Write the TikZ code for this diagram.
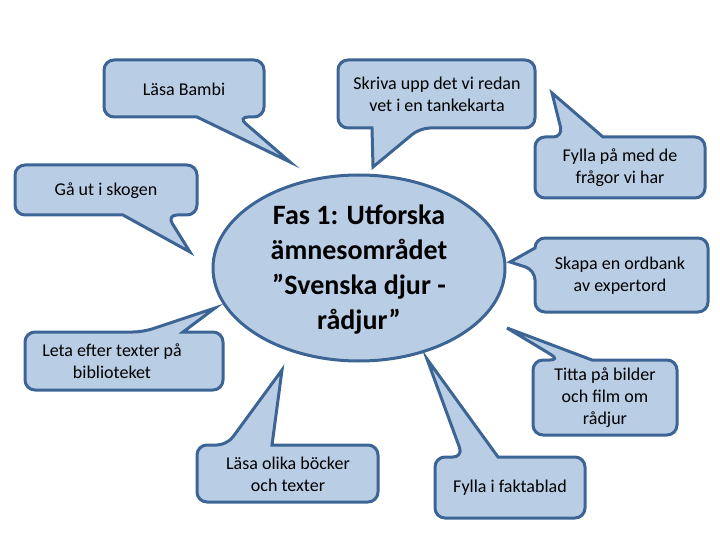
\documentclass[tikz,border=0pt]{standalone}
\usepackage{fontspec}
\setmainfont{Carlito}
\definecolor{bubfill}{HTML}{B9CDE5}
\definecolor{bubline}{HTML}{3C6494}
\begin{document}
\begin{tikzpicture}[x=1pt,y=-1pt,
  bub/.style={draw=bubline,fill=bubfill,line width=3pt},
  txt/.style={font=\fontsize{18}{22}\selectfont,align=center,inner sep=0pt,text=black},
  bigtxt/.style={font=\fontsize{28}{35}\selectfont\bfseries,align=center,inner sep=0pt,text=black}]
\useasboundingbox (0,0) rectangle (720,540);
% centre ellipse
\draw[bub] (359,268) ellipse [x radius=146, y radius=93];
\node[bigtxt] (centre) at (359,270) {Fas 1: Utforska\\ämnesområdet\\”Svenska djur -\\rådjur”};
% Läsa Bambi (tail bottom)
\draw[bub] (184,60) [rounded corners=10] -- (264,60) -- (264,117) -- (238,117) [sharp corners] -- (290,162) -- (197,117) [rounded corners=10] -- (104,117) -- (104,60) -- cycle;
\node[txt] (bambi) at (184,89) {Läsa Bambi};
% Skriva upp (tail bottom)
\draw[bub] (437,60) [rounded corners=10] -- (535,60) -- (535,128) -- (420,128) [sharp corners] -- (373,167) -- (372,128) [rounded corners=10] -- (338,128) -- (338,60) -- cycle;
\node[txt] (skriva) at (437,94) {Skriva upp det vi redan\\vet i en tankekarta};
% Fylla på (tail top)
\draw[bub] (620,198) [rounded corners=10] -- (535,198) -- (535,137) -- (563,137) [sharp corners] -- (552,93) -- (603,137) [rounded corners=10] -- (705,137) -- (705,198) -- cycle;
\node[txt] (fyllapa) at (620,168) {Fylla på med de\\frågor vi har};
% Gå ut i skogen (tail bottom)
\draw[bub] (106,165) [rounded corners=10] -- (197,165) -- (197,215) -- (167,215) [sharp corners] -- (190,252) -- (123,215) [rounded corners=10] -- (15,215) -- (15,165) -- cycle;
\node[txt] (skogen) at (106,191) {Gå ut i skogen};
% Skapa en ordbank (tail left)
\draw[bub] (620,238) [rounded corners=10] -- (708,238) -- (708,312) -- (535,312) -- (535,270) [sharp corners] -- (510,262) -- (535,248) [rounded corners=10] -- (535,238) -- cycle;
\node[txt] (ordbank) at (620,276) {Skapa en ordbank\\av expertord};
% Leta efter texter (tail top)
\draw[bub] (124,390) [rounded corners=10] -- (25,390) -- (25,332) -- (143,332) [sharp corners] -- (215,308) -- (183,332) [rounded corners=10] -- (223,332) -- (223,390) -- cycle;
\node[txt] (leta) at (112,361) {Leta efter texter på\\biblioteket};
% Titta på bilder (tail top)
\draw[bub] (605,435) [rounded corners=10] -- (533,435) -- (533,360) -- (560,360) [sharp corners] -- (507,328) -- (592,360) [rounded corners=10] -- (677,360) -- (677,435) -- cycle;
\node[txt] (titta) at (605,398) {Titta på bilder\\och film om\\rådjur};
% Läsa olika böcker (tail top)
\draw[bub] (288,502) [rounded corners=10] -- (197,502) -- (197,445) -- (227,445) [sharp corners] -- (282,370) -- (272,445) [rounded corners=10] -- (378,445) -- (378,502) -- cycle;
\node[txt] (bocker) at (288,474) {Läsa olika böcker\\och texter};
% Fylla i faktablad (tail top)
\draw[bub] (510,518) [rounded corners=10] -- (435,518) -- (435,457) -- (463,457) [sharp corners] -- (427,359) -- (498,457) [rounded corners=10] -- (585,457) -- (585,518) -- cycle;
\node[txt] (fakta) at (510,488) {Fylla i faktablad};
\end{tikzpicture}
\end{document}
